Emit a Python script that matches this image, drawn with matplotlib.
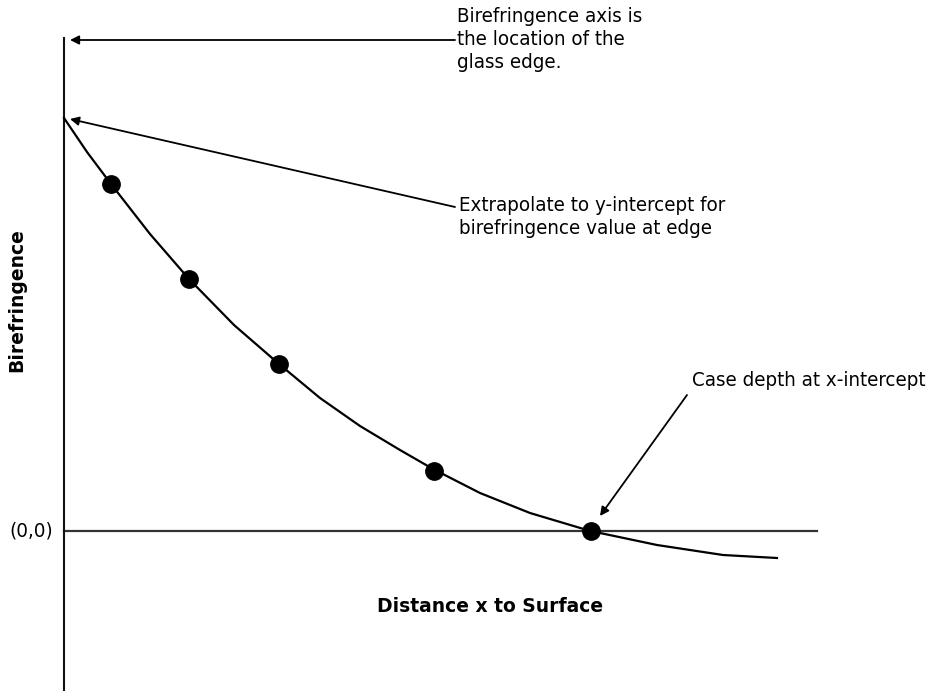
import matplotlib.pyplot as plt

# measured points (distance from surface, birefringence), arbitrary units
point_x = [47, 125, 215, 370, 527]
point_y = [347, 252, 167, 60, 0]

# extrapolated curve
curve_x = [0, 23, 47, 86, 125, 170, 215, 256, 296, 336, 369, 416, 466, 523, 536, 593, 659, 713]
curve_y = [413, 379, 347, 297, 252, 206, 167, 133, 105, 81, 62, 38, 18, 1, -2, -14, -24, -27]

axis_x_end = 753
axis_y_top = 493
axis_y_bottom = -160

txt_font = ['DejaVu Sans']
bold_font = ['DejaVu Sans']

fig = plt.figure(figsize=(9.35, 6.91), dpi=100)
ax = fig.add_axes([0, 0, 1, 1])
ax.set_xlim(-64, 871)
ax.set_ylim(-160, 531)
ax.axis('off')

# axes
ax.plot([0, axis_x_end], [0, 0], color='#333333', lw=1.6)
ax.plot([0, 0], [axis_y_bottom, axis_y_top], color='#111111', lw=1.5)

# curve and points
ax.plot(curve_x, curve_y, color='black', lw=1.6, solid_joinstyle='round')
ax.plot(point_x, point_y, 'o', color='black', markersize=12.5)

arrow = dict(arrowstyle='-|>', color='black', lw=1.3, mutation_scale=13, shrinkA=0, shrinkB=0)
txt = dict(fontsize=14.7, family=txt_font, fontstretch='condensed', ha='left')

ax.annotate('', xy=(6, 491), xytext=(391, 491), arrowprops=arrow)
ax.text(393, 524, 'Birefringence axis is\nthe location of the\nglass edge.', va='top',
        linespacing=1.27, **txt)

ax.annotate('', xy=(6, 412), xytext=(391, 324), arrowprops=arrow)
ax.text(395, 314, 'Extrapolate to y-intercept for\nbirefringence value at edge', va='center',
        linespacing=1.25, **txt)

ax.annotate('', xy=(536, 15), xytext=(623, 136), arrowprops=arrow)
ax.text(628, 150, 'Case depth at x-intercept', va='center', **txt)

ax.text(-11, 0, '(0,0)', fontsize=14.7, family=txt_font, fontstretch='condensed',
        va='center', ha='right')
ax.text(426, -76, 'Distance x to Surface', fontsize=13.5, family=bold_font,
        fontweight='bold', va='center', ha='center')
ax.text(-47, 231, 'Birefringence', fontsize=13.5, family=bold_font,
        fontweight='bold', va='center', ha='center', rotation=90)

fig.savefig('out.png', dpi=100)
